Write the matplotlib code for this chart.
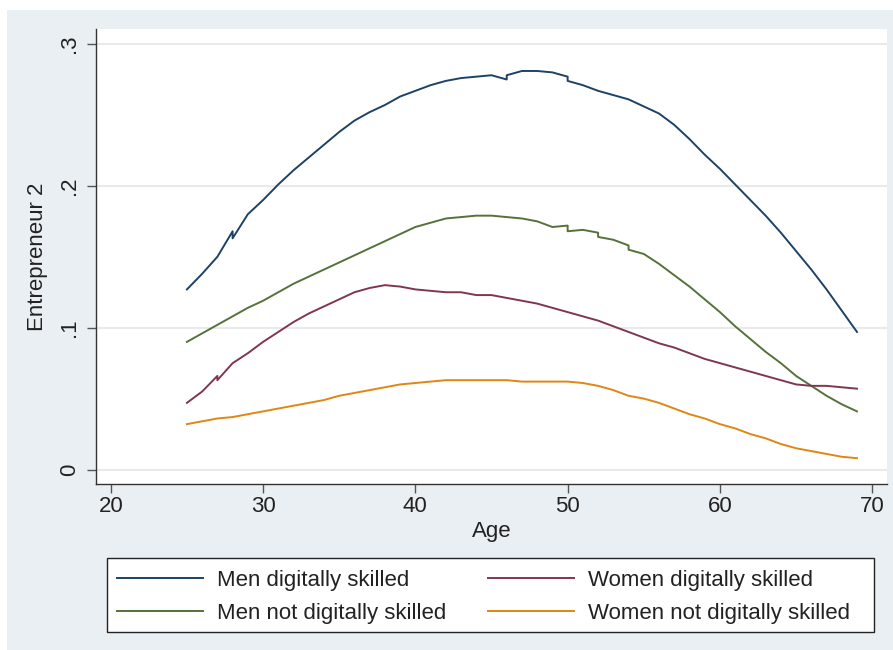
import matplotlib
matplotlib.use("Agg")
import matplotlib.pyplot as plt
from matplotlib.patches import Rectangle

plt.rcParams['font.family'] = ['Liberation Sans', 'DejaVu Sans']

# ages (repeated ages give the small vertical steps seen in the original)
age_men_dig = [25, 26, 27, 28, 28, 29, 30, 31, 32, 33, 34, 35, 36, 37, 38, 39,
               40, 41, 42, 43, 44, 45, 46, 46, 47, 48, 49, 50, 50, 51, 52, 53,
               54, 55, 56, 57, 58, 59, 60, 61, 62, 63, 64, 65, 66, 67, 68, 69]
men_dig = [.127, .138, .150, .168, .163, .180, .190, .201, .211, .220, .229,
           .238, .246, .252, .257, .263, .267, .271, .274, .276, .277, .278,
           .275, .278, .281, .281, .280, .277, .274, .271, .267, .264, .261,
           .256, .251, .243, .233, .222, .212, .201, .190, .179, .167, .154,
           .141, .127, .112, .097]

age_men_nodig = [25, 26, 27, 28, 29, 30, 31, 32, 33, 34, 35, 36, 37, 38, 39,
                 40, 41, 42, 43, 44, 45, 46, 47, 48, 49, 50, 50, 51, 52, 52,
                 53, 54, 54, 55, 56, 57, 58, 59, 60, 61, 62, 63, 64, 65, 66,
                 67, 68, 69]
men_nodig = [.090, .096, .102, .108, .114, .119, .125, .131, .136, .141, .146,
             .151, .156, .161, .166, .171, .174, .177, .178, .179, .179, .178,
             .177, .175, .171, .172, .168, .169, .167, .164, .162, .158, .155,
             .152, .145, .137, .129, .120, .111, .101, .092, .083, .075, .066,
             .059, .052, .046, .041]

age_women_dig = [25, 26, 27, 27, 28, 29, 30, 31, 32, 33, 34, 35, 36, 37, 38,
                 39, 40, 41, 42, 43, 44, 45, 46, 47, 48, 49, 50, 51, 52, 53,
                 54, 55, 56, 57, 58, 59, 60, 61, 62, 63, 64, 65, 66, 67, 68, 69]
women_dig = [.047, .055, .066, .063, .075, .082, .090, .097, .104, .110, .115,
             .120, .125, .128, .130, .129, .127, .126, .125, .125, .123, .123,
             .121, .119, .117, .114, .111, .108, .105, .101, .097, .093, .089,
             .086, .082, .078, .075, .072, .069, .066, .063, .060, .059, .059,
             .058, .057]

age_women_nodig = list(range(25, 70))
women_nodig = [.032, .034, .036, .037, .039, .041, .043, .045, .047, .049,
               .052, .054, .056, .058, .060, .061, .062, .063, .063, .063,
               .063, .063, .062, .062, .062, .062, .061, .059, .056, .052,
               .050, .047, .043, .039, .036, .032, .029, .025, .022, .018,
               .015, .013, .011, .009, .008]

x_ticks = [20, 30, 40, 50, 60, 70]
y_ticks = [0, .1, .2, .3]
y_tick_labels = ['0', '.1', '.2', '.3']

fig = plt.figure(figsize=(8.93, 6.5), dpi=100, facecolor='white')
W, H = 893.0, 650.0

# Stata-like light bluish graph region
fig.add_artist(Rectangle((7 / W, 0), 1 - 7 / W, 1 - 10 / H,
                         transform=fig.transFigure, facecolor='#e9eff2',
                         edgecolor='none', zorder=0))

ax = fig.add_axes([96 / W, 1 - 484 / H, (887 - 96) / W, (484 - 29) / H])
ax.set_facecolor('white')

ax.plot(age_men_dig, men_dig, color='#1d4266', lw=1.4,
        label='Men digitally skilled')
ax.plot(age_men_nodig, men_nodig, color='#56713a', lw=1.4,
        label='Men not digitally skilled')
ax.plot(age_women_dig, women_dig, color='#80364f', lw=1.4,
        label='Women digitally skilled')
ax.plot(age_women_nodig, women_nodig, color='#df8614', lw=1.4,
        label='Women not digitally skilled')

ax.set_xlim(19.03, 70.97)
ax.set_ylim(-0.0102, 0.3106)
ax.set_xticks(x_ticks)
ax.set_yticks(y_ticks)
ax.set_yticklabels(y_tick_labels, rotation=90, va='center')

for side in ['top', 'right']:
    ax.spines[side].set_visible(False)
for side in ['left', 'bottom']:
    ax.spines[side].set_color('#333333')
    ax.spines[side].set_linewidth(1.0)

ax.tick_params(axis='both', colors='#555555', labelcolor='#222222',
               length=6.5, width=1.0, labelsize=16)
ax.tick_params(axis='x', pad=2)
ax.tick_params(axis='y', pad=5)

ax.grid(axis='y', color='#e8ebec', lw=1.5)
ax.set_axisbelow(True)

ax.set_xlabel('Age', fontsize=16, color='#222222', labelpad=3)
ax.set_ylabel('Entrepreneur 2', fontsize=16, color='#222222', labelpad=8)

# legend box
fig.add_artist(Rectangle((107 / W, 1 - 632 / H), (874 - 107) / W, 74 / H,
                         transform=fig.transFigure, facecolor='white',
                         edgecolor='#222222', lw=1.0, zorder=1))

handles, labels = ax.get_legend_handles_labels()
leg = fig.legend(handles, labels, ncol=2, loc='upper left',
                 bbox_to_anchor=(107 / W, 1 - 560 / H), borderaxespad=0,
                 frameon=False, fontsize=16, handlelength=3.87,
                 handletextpad=0.63, columnspacing=1.9, borderpad=0.45,
                 labelspacing=0.55)
for t in leg.get_texts():
    t.set_color('#222222')
leg.set_zorder(2)

fig.savefig('out.png', dpi=100, facecolor='white')
